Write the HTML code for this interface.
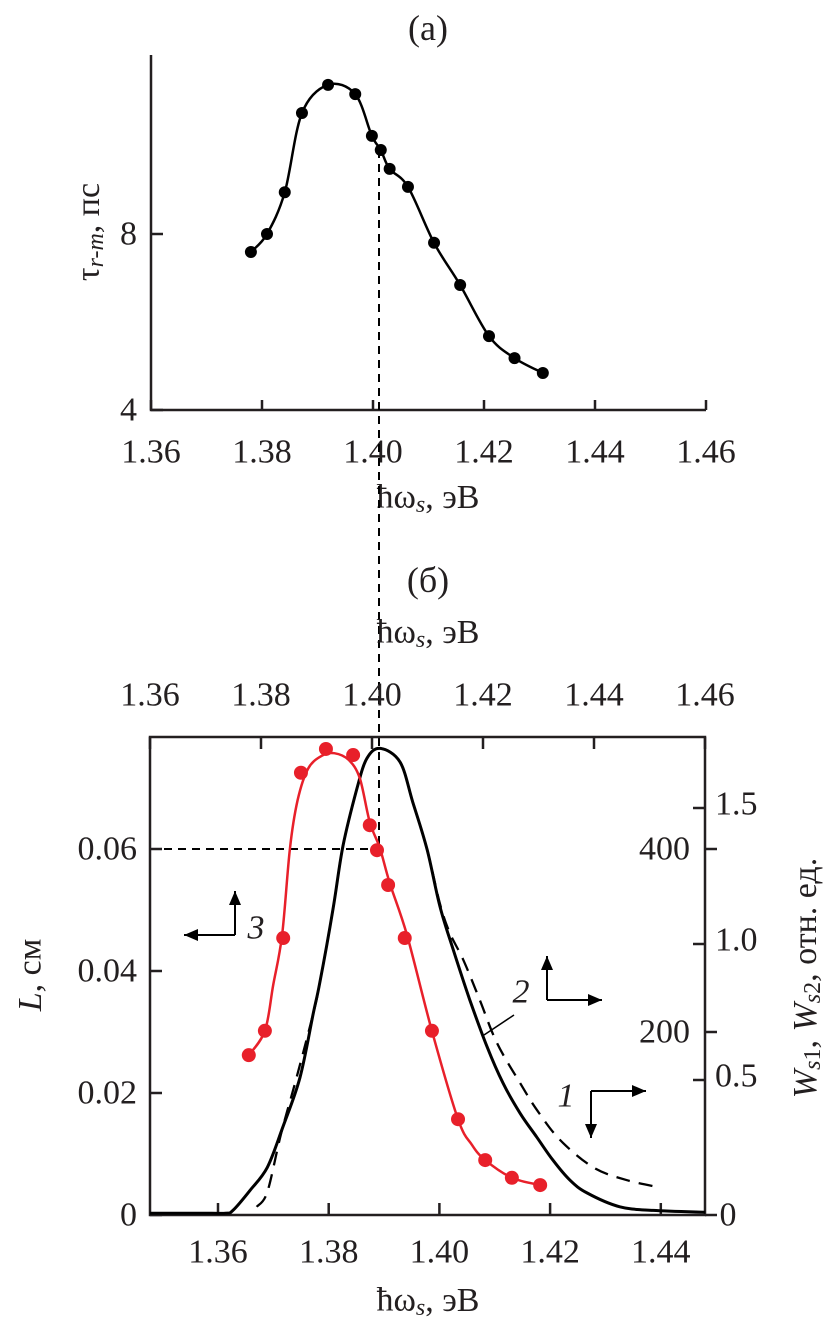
<!DOCTYPE html>
<html><head><meta charset="utf-8"><style>
html,body{margin:0;padding:0;background:#fff;}
svg{display:block;font-family:"Liberation Serif",serif;}
</style></head><body>
<svg id="fig" width="839" height="1335" viewBox="0 0 839 1335" xmlns="http://www.w3.org/2000/svg"></svg>
<script>
// ---- Panel (a) data ----
const tauE = [1.3780,1.3809,1.3841,1.3872,1.3919,1.3968,1.3998,1.4014,1.4030,1.4063,1.4110,1.4157,1.4209,1.4255,1.4306];
const tauV = [7.59,8.0,8.95,10.75,11.39,11.18,10.23,9.91,9.48,9.07,7.80,6.84,5.68,5.18,4.84];
const aTicksX = [1.36,1.38,1.40,1.42,1.44,1.46];
const aTicksY = [4,8];
// ---- Panel (b) data ----
const LE = [1.3778,1.3807,1.3840,1.3872,1.3917,1.3966,1.3996,1.4009,1.4029,1.4059,1.4108,1.4155,1.4204,1.4252,1.4303];
const LV = [0.0262,0.0302,0.0454,0.0725,0.0764,0.0754,0.0639,0.0598,0.0541,0.0454,0.0302,0.0157,0.0090,0.0061,0.0049];
const LfitE = [1.3778,1.3807,1.3822,1.3838,1.3852,1.3866,1.3885,1.3910,1.3932,1.3958,1.3978,1.3996,1.4014,1.4032,1.4063,1.4108,1.4155,1.4180,1.4204,1.4252,1.4303];
const LfitV = [0.0262,0.0302,0.0377,0.0459,0.0600,0.0680,0.0732,0.0753,0.0757,0.0746,0.0716,0.0644,0.0602,0.0544,0.0459,0.0302,0.0157,0.0115,0.0090,0.0061,0.0049];
const w1E = [1.3477,1.3567,1.3613,1.3627,1.3658,1.3689,1.3717,1.3748,1.3772,1.3784,1.3808,1.3826,1.3851,1.3869,1.3893,1.3929,1.3952,1.3978,1.4001,1.4025,1.4055,1.4086,1.4115,1.4146,1.4176,1.4205,1.4236,1.4267,1.4326,1.4386,1.4480];
const w1V = [2,2,2,5,27,52,96,150,220,254,335,404,466,499,510,495,451,399,337,290,235,184,144,111,85,60,38,24,9,5,3];
const w2E = [1.3670,1.3689,1.3714,1.3741,1.3772,1.3784,1.3808,1.3826,1.3851,1.3869,1.3893,1.3929,1.3952,1.3978,1.4001,1.4019,1.4043,1.4073,1.4104,1.4146,1.4176,1.4218,1.4278,1.4339,1.4399];
const w2V = [9,25,89,148,220,254,335,404,466,499,510,495,451,399,340,308,279,235,188,144,115,82,52,38,30];
const bTopTicks = [1.36,1.38,1.40,1.42,1.44,1.46];
const bBotTicks = [1.36,1.38,1.40,1.42,1.44];
const LTicks = [0,0.02,0.04,0.06];
const WTicks = [0,200,400];
const W2Ticks = [0.5,1.0,1.5];

const NS="http://www.w3.org/2000/svg";
const svg=document.getElementById('fig');
function el(tag,attrs,parent){const e=document.createElementNS(NS,tag);for(const k in attrs)e.setAttribute(k,attrs[k]);(parent||svg).appendChild(e);return e;}
function txt(s,x,y,size,anchor,parent,extra){const t=el('text',Object.assign({x:x,y:y,'font-size':size,'text-anchor':anchor||'middle','dominant-baseline':'central',fill:'#231f20'},extra||{}),parent);t.innerHTML=s;return t;}
function spline(pts){let d='M'+pts[0][0].toFixed(1)+','+pts[0][1].toFixed(1);for(let i=0;i<pts.length-1;i++){const p0=pts[i-1]||pts[i],p1=pts[i],p2=pts[i+1],p3=pts[i+2]||p2;const c1=[p1[0]+(p2[0]-p0[0])/6,p1[1]+(p2[1]-p0[1])/6],c2=[p2[0]-(p3[0]-p1[0])/6,p2[1]-(p3[1]-p1[1])/6];d+=' C'+c1[0].toFixed(1)+','+c1[1].toFixed(1)+' '+c2[0].toFixed(1)+','+c2[1].toFixed(1)+' '+p2[0].toFixed(1)+','+p2[1].toFixed(1);}return d;}

const ax=v=>151+(v-1.36)/0.02*111;
const ay=v=>410-(v-4)*44;
const btx=v=>150+(v-1.36)/0.02*111;
const bbx=v=>218+(v-1.36)/0.02*110.7;
const Ly=v=>1215-v/0.02*122;
const Wy=v=>1215-v*366/400;
const W2y=v=>1216-v*272;
const C='#231f20';

// ===== Panel (a) =====
const ga=el('g',{});


txt('(a)',428,28,36,'middle',ga);
el('path',{d:'M151,55 V410 H706',fill:'none',stroke:C,'stroke-width':2.5},ga);
aTicksX.forEach(v=>{el('line',{x1:ax(v),x2:ax(v),y1:410,y2:400,stroke:C,'stroke-width':2.5},ga);const t=txt(v.toFixed(2),ax(v),452,34,'middle',ga);});
aTicksY.forEach(v=>{el('line',{x1:151,x2:163,y1:ay(v),y2:ay(v),stroke:C,'stroke-width':2.5},ga);const t=txt(String(v),137,ay(v),34,'end',ga);});
const at=txt('ħω<tspan font-style="italic" font-size="24" dy="8">s</tspan><tspan dy="-8">, эВ</tspan>',428,497,34,'middle',ga);

const ayt=el('text',{x:0,y:0,'font-size':34,'text-anchor':'middle','dominant-baseline':'central',fill:C,transform:'translate(88,232) rotate(-90)'},ga);
ayt.innerHTML='τ<tspan font-style="italic" font-size="24" dy="8">r-m</tspan><tspan dy="-8">, пс</tspan>';

const aPts=tauE.map((e,i)=>[ax(e),ay(tauV[i])]);
const ac=el('path',{d:spline(aPts),fill:'none',stroke:'#000','stroke-width':2.5},ga);

aPts.forEach(p=>{const c=el('circle',{cx:p[0],cy:p[1],r:6,fill:'#000'},ga);});

const dv=el('line',{x1:379,x2:379,y1:150,y2:849,stroke:'#000','stroke-width':2,'stroke-dasharray':'8,6'});

const dh=el('line',{x1:150,x2:379,y1:849,y2:849,stroke:'#000','stroke-width':2,'stroke-dasharray':'8,6'});


// ===== Panel (b) =====
const gb=el('g',{});


txt('(б)',428,580,36,'middle',gb);
const tt=txt('ħω<tspan font-style="italic" font-size="24" dy="8">s</tspan><tspan dy="-8">, эВ</tspan>',428,632,34,'middle',gb);

el('rect',{x:150,y:737,width:555,height:478,fill:'none',stroke:C,'stroke-width':2.5},gb);
bTopTicks.forEach(v=>{el('line',{x1:btx(v),x2:btx(v),y1:737,y2:749,stroke:C,'stroke-width':2.5},gb);const t=txt(v.toFixed(2),btx(v),695,34,'middle',gb);});
bBotTicks.forEach(v=>{el('line',{x1:bbx(v),x2:bbx(v),y1:1215,y2:1203,stroke:C,'stroke-width':2.5},gb);const t=txt(v.toFixed(2),bbx(v),1252,34,'middle',gb);});
const bt=txt('ħω<tspan font-style="italic" font-size="24" dy="8">s</tspan><tspan dy="-8">, эВ</tspan>',428,1300,34,'middle',gb);

LTicks.forEach(v=>{el('line',{x1:150,x2:162,y1:Ly(v),y2:Ly(v),stroke:C,'stroke-width':2.5},gb);const t=txt(v===0?'0':v.toFixed(2),137,Ly(v),34,'end',gb);});
WTicks.forEach(v=>{el('line',{x1:705,x2:717,y1:Wy(v),y2:Wy(v),stroke:C,'stroke-width':2.5},gb);if(v>0){const t=txt(String(v),690,Wy(v),34,'end',gb);}});
txt('0',728,1215,34,'middle',gb);
W2Ticks.forEach(v=>{el('line',{x1:693,x2:705,y1:W2y(v),y2:W2y(v),stroke:C,'stroke-width':2.5},gb);const t=txt(v.toFixed(1),715,W2y(v)-4,34,'start',gb);});
const lyt=el('text',{x:0,y:0,'font-size':34,'text-anchor':'middle','dominant-baseline':'central',fill:C,transform:'translate(30,975) rotate(-90)'},gb);
lyt.innerHTML='<tspan font-style="italic">L</tspan>, см';

const wyt=el('text',{x:0,y:0,'font-size':34,'text-anchor':'middle','dominant-baseline':'central',fill:C,transform:'translate(805,978) rotate(-90)'},gb);
wyt.innerHTML='<tspan font-style="italic">W</tspan><tspan font-size="24" dy="8"><tspan font-style="italic">s</tspan>1</tspan><tspan dy="-8">, </tspan><tspan font-style="italic">W</tspan><tspan font-size="24" dy="8"><tspan font-style="italic">s</tspan>2</tspan><tspan dy="-8">, отн. ед.</tspan>';


const s2=el('path',{d:spline(w2E.map((e,i)=>[bbx(e),Wy(w2V[i])])),fill:'none',stroke:'#000','stroke-width':2.3,'stroke-dasharray':'14,9'},gb);

const s1=el('path',{d:spline(w1E.map((e,i)=>[bbx(e),Wy(w1V[i])])),fill:'none',stroke:'#000','stroke-width':3},gb);

const rc=el('path',{d:spline(LfitE.map((e,i)=>[btx(e),Ly(LfitV[i])])),fill:'none',stroke:'#e8202a','stroke-width':2.5},gb);

LE.forEach((e,i)=>{const c=el('circle',{cx:btx(e),cy:Ly(LV[i]),r:7,fill:'#e8202a'},gb);});

function arrow(x1,y1,x2,y2,g){el('line',{x1:x1,y1:y1,x2:x2,y2:y2,stroke:'#000','stroke-width':2},g);const a=Math.atan2(y2-y1,x2-x1),L=14,W=6;const p=[[x2,y2],[x2-L*Math.cos(a)+W*Math.sin(a),y2-L*Math.sin(a)-W*Math.cos(a)],[x2-L*Math.cos(a)-W*Math.sin(a),y2-L*Math.sin(a)+W*Math.cos(a)]];el('polygon',{points:p.map(q=>q.join(',')).join(' '),fill:'#000'},g);}
const g3=el('g',{});


arrow(235,935,235,891,g3);arrow(235,935,184,935,g3);
txt('3',256,928,34,'middle',g3,{'font-style':'italic'});
const g2=el('g',{});


el('line',{x1:484,y1:1035,x2:514,y2:1015,stroke:'#000','stroke-width':1.5},g2);
arrow(547,1000,547,956,g2);arrow(547,1000,602,1000,g2);
txt('2',521,992,34,'middle',g2,{'font-style':'italic'});
const g1=el('g',{});


arrow(591,1091,591,1138,g1);arrow(591,1091,646,1091,g1);
txt('1',566,1096,34,'middle',g1,{'font-style':'italic'});
</script>
</body></html>
